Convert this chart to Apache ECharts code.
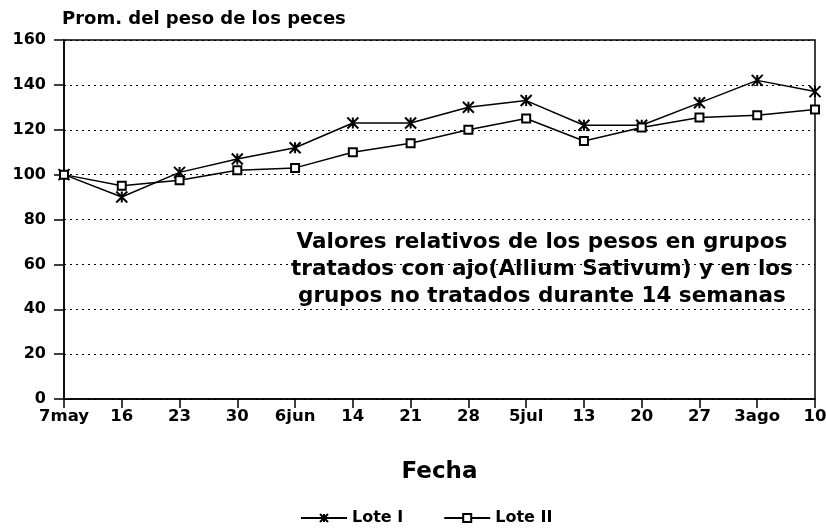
<!DOCTYPE html>
<html>
<head>
<meta charset="utf-8">
<script src="https://cdn.jsdelivr.net/npm/echarts@6/dist/echarts.min.js"></script>
<style>
  html, body { margin: 0; padding: 0; background: #fff; }
  #chart { width: 826px; height: 530px; }
</style>
</head>
<body>
<div id="chart"></div>
<script>
// fechas de muestreo
const fechas = ['7may', '16', '23', '30', '6jun', '14', '21', '28', '5jul', '13', '20', '27', '3ago', '10']
// peso relativo promedio
const loteI = [100, 90, 101, 107, 112, 123, 123, 130, 133, 122, 122, 132, 142, 137]
const loteII = [100, 95, 97.5, 102, 103, 110, 114, 120, 125, 115, 121, 125.5, 126.5, 129]
const yTicks = [0, 20, 40, 60, 80, 100, 120, 140, 160]

const font = '"DejaVu Sans", sans-serif'
const cross = 'path://M0,0L10,10M10,0L0,10M5,0L5,10'

const chart = echarts.init(document.getElementById('chart'))

chart.setOption({
    animation: false,
    backgroundColor: '#fff',
    grid: {
        left: 64, right: 11, top: 40, bottom: 131,
        outerBoundsMode: 'none',
        show: true, borderColor: '#000', borderWidth: 1.5, backgroundColor: 'transparent'
    },
    xAxis: {
        type: 'category',
        data: fechas,
        boundaryGap: false,
        name: 'Fecha',
        nameLocation: 'middle',
        nameGap: 62,
        nameTextStyle: { color: '#000', fontFamily: font, fontWeight: 'bold', fontSize: 23 },
        axisLine: { lineStyle: { color: '#000', width: 1.5 } },
        axisTick: { show: true, length: 9, interval: 0, lineStyle: { color: '#000', width: 1.5 } },
        axisLabel: { color: '#000', fontFamily: font, fontWeight: 'bold', fontSize: 16.5, margin: 9, interval: 0, hideOverlap: false },
        splitLine: { show: false }
    },
    yAxis: {
        type: 'value',
        min: yTicks[0],
        max: yTicks[yTicks.length - 1],
        interval: 20,
        axisLine: { show: true, lineStyle: { color: '#000', width: 1.5 } },
        axisTick: { show: true, length: 10, lineStyle: { color: '#000', width: 1.5 } },
        axisLabel: { color: '#000', fontFamily: font, fontWeight: 'bold', fontSize: 16, margin: 18 },
        splitLine: { show: true, lineStyle: { color: '#000', type: [2, 4], width: 1.2 } }
    },
    legend: {
        top: 505,
        left: 295,
        itemGap: 40,
        itemWidth: 46,
        itemHeight: 10,
        textStyle: { color: '#000', fontFamily: font, fontWeight: 'bold', fontSize: 16 },
        data: ['Lote I', 'Lote II']
    },
    series: [
        {
            name: 'Lote I',
            type: 'line',
            data: loteI,
            symbol: cross,
            symbolSize: 11,
            lineStyle: { color: '#000', width: 1.5 },
            itemStyle: { color: '#000', borderColor: '#000', borderWidth: 2 }
        },
        {
            name: 'Lote II',
            type: 'line',
            data: loteII,
            symbol: 'emptyRect',
            symbolSize: 8,
            lineStyle: { color: '#000', width: 1.5 },
            itemStyle: { color: '#000', borderColor: '#000', borderWidth: 1.5 }
        }
    ],
    graphic: [
        {
            type: 'text', left: 62, top: 10,
            style: { text: 'Prom. del peso de los peces', fill: '#000', font: 'bold 18px ' + font }
        },
        {
            type: 'text', left: 291, top: 229,
            style: {
                text: 'Valores relativos de los pesos en grupos\ntratados con ajo(Allium Sativum) y en los\ngrupos no tratados durante 14 semanas',
                fill: '#000', font: 'bold 21.5px ' + font, textAlign: 'center', lineHeight: 27
            }
        }
    ]
})
</script>
</body>
</html>
